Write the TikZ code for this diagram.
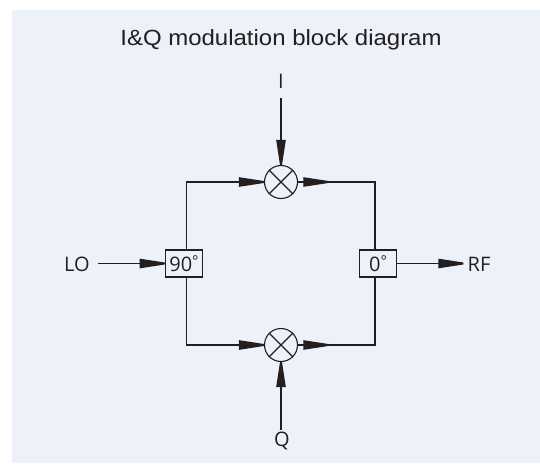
\documentclass[tikz,border=0pt]{standalone}
\usepackage{fontspec}
\setmainfont{Open Sans}
\newfontfamily\titlefont[FakeStretch=1.09]{Liberation Sans}
\definecolor{panel}{HTML}{EDF1F9}
\definecolor{ink}{HTML}{231F20}
\tikzset{
  x=1pt,y=-1pt,
  wire/.style={draw=ink,line width=1.1pt},
  mixer/.style={circle,draw=ink,line width=1.1pt,minimum size=33pt,inner sep=0pt},
  shifter/.style={rectangle,draw=ink,line width=1.1pt,inner sep=0pt,fill=panel,text=ink,font=\fontsize{20}{20}\selectfont},
  lbl/.style={text=ink,inner sep=0pt,font=\fontsize{20}{20}\selectfont}
}
\newcommand{\wedgetip}[2]{\fill[ink,shift={(#1)},rotate=#2] (0,-1) -- (-25,-4.85) -- (-25,4.85) -- (0,1) -- cycle;}
\newcommand{\degmark}{\raisebox{0.22em}{\fontsize{15}{15}\selectfont\textdegree}}
\begin{document}
\begin{tikzpicture}
\useasboundingbox (0,0) rectangle (540,463);
\fill[white] (0,0) rectangle (540,463);
\fill[panel] (12,10) rectangle (540,463);
\node[text=ink,inner sep=0pt,font=\titlefont\fontsize{22}{22}\selectfont] (title) at (281,40) {I\&Q modulation block diagram};
\node[lbl] (I) at (281,81) {I};
\node[lbl] (Q) at (282,441) {Q};
\node[lbl] (LO) at (77,264) {LO};
\node[lbl] (RF) at (479,264) {RF};
\node[mixer] (m1) at (281,182) {};
\node[mixer] (m2) at (281,345) {};
\draw[wire] (m1.45)--(m1.225) (m1.135)--(m1.315);
\draw[wire] (m2.45)--(m2.225) (m2.135)--(m2.315);
\node[shifter,minimum width=37.5pt,minimum height=27pt] (p90) at (184,263.5) {90\degmark};
\node[shifter,minimum width=37.5pt,minimum height=27pt] (p0) at (378,263.5) {0\degmark};
\coordinate (c1) at (186.7,182);
\coordinate (c2) at (375,182);
\coordinate (c3) at (186.7,345);
\coordinate (c4) at (375,345);
\coordinate (ci) at (281,98);
\coordinate (cq) at (281,429.5);
\coordinate (clo) at (98.3,263.5);
\coordinate (crf) at (445,263.5);
\coordinate (t1) at (328.3,182);
\coordinate (t2) at (328.3,345);
\coordinate (t3) at (463.3,263.5);
\draw[wire] (ci) -- (m1.north);
\draw[wire] (cq) -- (m2.south);
\draw[wire] (clo) -- (p90.west);
\draw[wire] (p0.east) -- (crf);
\draw[wire] (c1 |- p90.north) -- (c1) -- (m1.west);
\draw[wire] (c3 |- p90.south) -- (c3) -- (m2.west);
\draw[wire] (m1.east) -- (c2) -- (c2 |- p0.north);
\draw[wire] (m2.east) -- (c4) -- (c4 |- p0.south);
\wedgetip{m1.north}{-90}
\wedgetip{m2.south}{90}
\wedgetip{m1.west}{0}
\wedgetip{m2.west}{0}
\wedgetip{p90.west}{0}
\wedgetip{t1}{0}
\wedgetip{t2}{0}
\wedgetip{t3}{0}
\end{tikzpicture}
\end{document}
